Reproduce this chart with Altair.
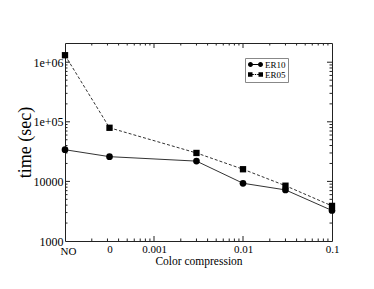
import altair as alt
import pandas as pd

# ---- data ----
x_pos = [1e-4, 3.1623e-4, 0.003, 0.01, 0.03, 0.1]
er10 = [34000, 26000, 21900, 9300, 7200, 3250]
er05 = [1310000, 79400, 30000, 16000, 8470, 3880]
series_names = ["ER10", "ER05"]

x_tick_values = [1e-4, 3.1623e-4, 0.001, 0.01, 0.1]
x_tick_labels = ["NO", "0", "0.001", "0.01", "0.1"]
y_tick_values = [1000, 10000, 100000, 1000000]
y_tick_labels = ["1000", "10000", "1e+05", "1e+06"]

x_major = [0.001, 0.01]
x_minor = [2e-4, 3e-4, 4e-4, 5e-4, 6e-4, 7e-4, 8e-4, 9e-4,
           2e-3, 3e-3, 4e-3, 5e-3, 6e-3, 7e-3, 8e-3, 9e-3,
           2e-2, 3e-2, 4e-2, 5e-2, 6e-2, 7e-2, 8e-2, 9e-2]
y_major = [10000, 100000, 1000000]
y_minor = [2e3, 3e3, 4e3, 5e3, 6e3, 7e3, 8e3, 9e3,
           2e4, 3e4, 4e4, 5e4, 6e4, 7e4, 8e4, 9e4,
           2e5, 3e5, 4e5, 5e5, 6e5, 7e5, 8e5, 9e5]

W, H = 267, 198
FONT = "Liberation Serif"

df = pd.DataFrame({
    "x": x_pos * 2,
    "y": er10 + er05,
    "series": ["ER10"] * len(er10) + ["ER05"] * len(er05),
})
d10 = df[df.series == "ER10"]
d05 = df[df.series == "ER05"]

def expr_map(vals, labels):
    e = "''"
    for v, l in reversed(list(zip(vals, labels))):
        e = f"abs(log(datum.value) - log({v})) < 0.01 ? '{l}' : ({e})"
    return e

xscale = alt.Scale(type="log", domain=[1e-4, 0.1], nice=False)
yscale = alt.Scale(type="log", domain=[1000, 2.1e6], nice=False)

xaxis = alt.Axis(values=x_tick_values, labelExpr=expr_map(x_tick_values, x_tick_labels),
                 ticks=False, domain=False, grid=False, labelFont=FONT, labelFontSize=11,
                 labelColor="black",
                 labelPadding={"condition": {"test": "datum.value < 0.00015", "value": 4}, "value": 2},
                 labelOffset={"condition": {"test": "datum.value < 0.00015", "value": 3}, "value": 0},
                 title="Color compression",
                 titleFont=FONT, titleFontSize=11.5, titleFontWeight="normal",
                 titleColor="black", titleY=20, titleBaseline="middle",
                 labelFlush=False, labelOverlap=False)
yaxis = alt.Axis(values=y_tick_values, labelExpr=expr_map(y_tick_values, y_tick_labels),
                 ticks=False, domain=False, grid=False, labelFont=FONT, labelFontSize=12,
                 labelColor="black", labelPadding=2, title="time (sec)",
                 titleFont=FONT, titleFontSize=18, titleFontWeight="normal",
                 titleColor="black", titleX=-40, titleY=H / 2, titleBaseline="middle",
                 titleAlign="center", labelFlush=False, labelOverlap=False)

X = alt.X("x:Q", scale=xscale, axis=xaxis)
Y = alt.Y("y:Q", scale=yscale, axis=yaxis)

line10 = alt.Chart(d10).mark_line(color="#333", strokeWidth=1).encode(x=X, y=Y)
line05 = alt.Chart(d05).mark_line(color="#333", strokeWidth=1, strokeDash=[3, 2]).encode(x=X, y=Y)
pts10 = alt.Chart(d10).mark_point(shape="circle", filled=True, color="black", opacity=1, size=45).encode(x=X, y=Y)
pts05 = alt.Chart(d05).mark_point(shape="square", filled=True, color="black", opacity=1, size=40).encode(x=X, y=Y)

# legend glyphs (unit box is 8px; glyph spans 15px wide)
path10 = ("M-1.875,0A0.62,0.62 0 1,1 -0.635,0A0.62,0.62 0 1,1 -1.875,0Z "
          "M0.635,0A0.62,0.62 0 1,1 1.875,0A0.62,0.62 0 1,1 0.635,0Z "
          "M-1,-0.12H1V0.12H-1Z")
path05 = ("M-1.875,-0.56H-0.75V0.56H-1.875Z M0.75,-0.56H1.875V0.56H0.75Z "
          "M-0.75,-0.11H-0.42V0.11H-0.75Z M-0.17,-0.11H0.17V0.11H-0.17Z M0.42,-0.11H0.75V0.11H0.42Z")

legend_layer = alt.Chart(df).mark_point(filled=True, color="black", opacity=0).encode(
    x=alt.X("x:Q", scale=xscale),
    y=alt.Y("y:Q", scale=yscale),
    shape=alt.Shape("series:N",
                    scale=alt.Scale(domain=series_names, range=[path10, path05]),
                    legend=alt.Legend(title=None, orient="none", legendX=180, legendY=15,
                                      symbolSize=64, symbolOpacity=1, symbolFillColor="black",
                                      symbolStrokeWidth=0, symbolOffset=4, labelFont=FONT,
                                      labelFontSize=9, labelColor="black", labelOffset=5,
                                      rowPadding=0, padding=2, strokeColor="#888",
                                      fillColor="white")),
)

def ticks_x(vals, length):
    d = pd.DataFrame({"x": vals})
    b = alt.Chart(d).mark_rule(color="#222", strokeWidth=1).encode(
        x=alt.X("x:Q", scale=xscale), y=alt.value(H), y2=alt.value(H - length))
    t = alt.Chart(d).mark_rule(color="#222", strokeWidth=1).encode(
        x=alt.X("x:Q", scale=xscale), y=alt.value(0), y2=alt.value(length))
    return [b, t]

def ticks_y(vals, length):
    d = pd.DataFrame({"y": vals})
    l = alt.Chart(d).mark_rule(color="#222", strokeWidth=1).encode(
        y=alt.Y("y:Q", scale=yscale), x=alt.value(0), x2=alt.value(length))
    r = alt.Chart(d).mark_rule(color="#222", strokeWidth=1).encode(
        y=alt.Y("y:Q", scale=yscale), x=alt.value(W), x2=alt.value(W - length))
    return [l, r]

tick_layers = ticks_x(x_major, 5) + ticks_x(x_minor, 2.5) + ticks_y(y_major, 5) + ticks_y(y_minor, 2.5)

chart = alt.layer(
    *tick_layers, line05, line10, pts05, pts10, legend_layer
).properties(
    width=W, height=H,
    autosize=alt.AutoSizeParams(type="none"),
    padding={"left": 57, "top": 35, "right": 30, "bottom": 40},
    background="white",
).configure_view(stroke="#222", strokeWidth=1)

chart.save("out.html", embed_options={"renderer": "svg", "actions": False})
